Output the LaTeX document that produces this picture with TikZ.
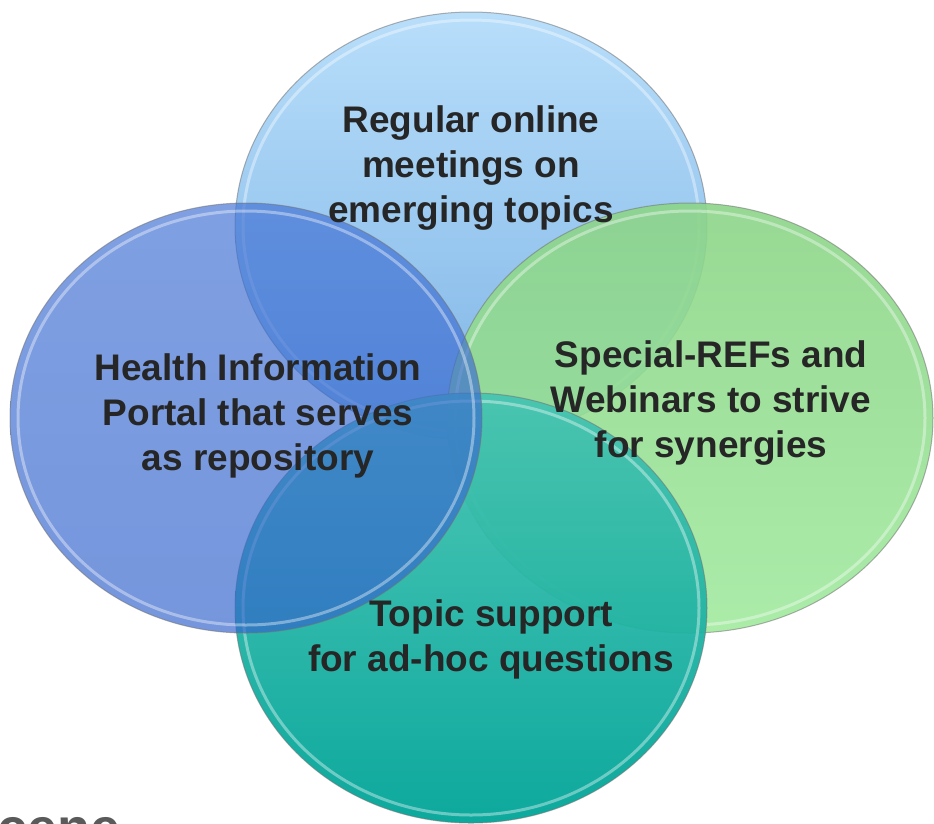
\documentclass[tikz,border=0pt]{standalone}
\usepackage{fontspec}
\setmainfont{Liberation Sans}
\definecolor{txt}{HTML}{262626}
\definecolor{topA}{RGB}{184,222,250}
\definecolor{topB}{RGB}{126,180,230}
\definecolor{grnA}{RGB}{140,212,136}
\definecolor{grnB}{RGB}{162,234,160}
\definecolor{tealA}{RGB}{70,196,178}
\definecolor{tealM}{RGB}{0,170,158}
\definecolor{tealB}{RGB}{0,164,152}
\definecolor{bluA}{RGB}{66,114,212}
\definecolor{bluB}{RGB}{52,100,204}
\definecolor{grayT}{HTML}{5A5A5A}
\begin{document}
\begin{tikzpicture}[x=1pt,y=-1pt,
  outline/.style={draw=black!55,draw opacity=0.55,line width=1pt},
  rim/.style={draw=white,draw opacity=0.38,line width=3pt},
  label/.style={text=txt,align=center,font=\fontsize{37}{45}\selectfont\bfseries,inner sep=0pt}]
\useasboundingbox (0,0) rectangle (934,823);
\clip (0,0) rectangle (934,823);
\coordinate (ct) at (471,226);
\coordinate (cr) at (690,418);
\coordinate (cb) at (471,608);
\coordinate (cl) at (246,418);
% top circle
\shade[top color=topA,bottom color=topB] (ct) ellipse [x radius=236,y radius=214];
\draw[outline] (ct) ellipse [x radius=236,y radius=214];
\draw[rim] (ct) ellipse [x radius=228,y radius=206];
% right circle
\shade[top color=grnA,bottom color=grnB,fill opacity=0.9] (cr) ellipse [x radius=243,y radius=215];
\draw[outline] (cr) ellipse [x radius=243,y radius=215];
\draw[rim] (cr) ellipse [x radius=235,y radius=207];
% bottom circle
\shade[top color=tealA,middle color=tealM,bottom color=tealB,fill opacity=0.95] (cb) ellipse [x radius=236,y radius=215];
\draw[outline] (cb) ellipse [x radius=236,y radius=215];
\draw[rim] (cb) ellipse [x radius=228,y radius=207];
% left circle
\shade[top color=bluA,bottom color=bluB,fill opacity=0.68] (cl) ellipse [x radius=236,y radius=215];
\draw[outline] (cl) ellipse [x radius=236,y radius=215];
\draw[rim] (cl) ellipse [x radius=228,y radius=207];
% texts
\node[label] (ttop) at (471,168) {Regular online\\meetings on\\emerging topics};
\node[label] (tleft) at (258,416) {Health Information\\Portal that serves\\as repository};
\node[label] (tright) at (711,403) {Special-REFs and\\Webinars to strive\\for synergies};
\node[label] (tbot) at (491,639) {Topic support\\for ad-hoc questions};
\node[text=grayT,font=\fontsize{54}{60}\selectfont\bfseries,anchor=base west,inner sep=0pt] (tcut) at (-3,846) {cene};
\end{tikzpicture}
\end{document}
